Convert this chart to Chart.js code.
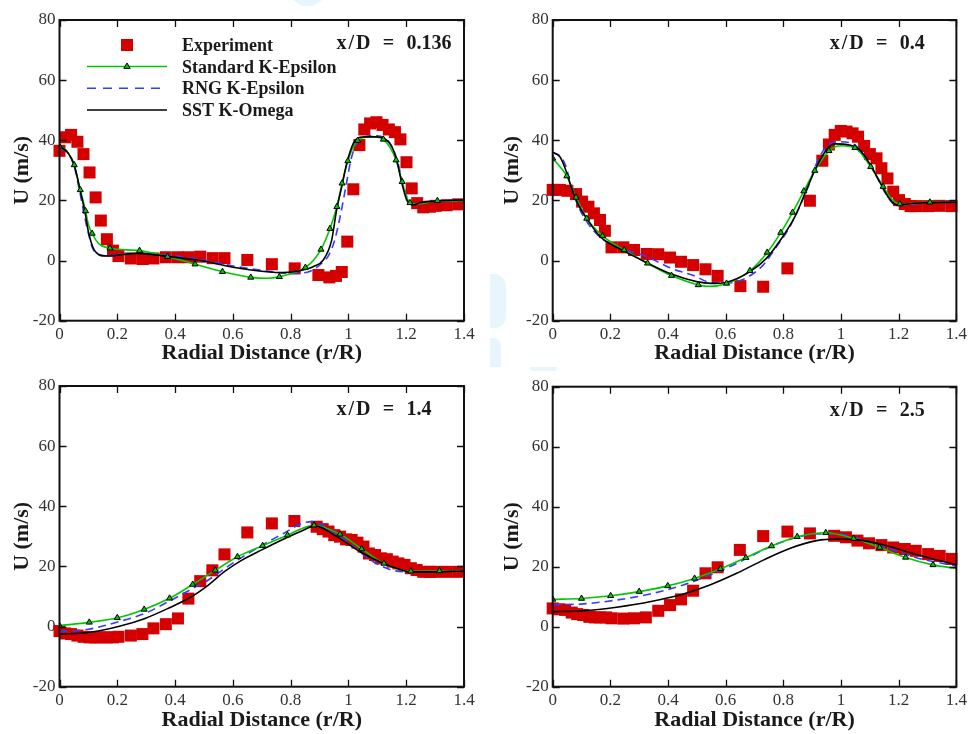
<!DOCTYPE html>
<html>
<head>
<meta charset="utf-8">
<title>Axial velocity profiles</title>
<script src="https://cdn.jsdelivr.net/npm/chart.js"></script>
<style>
  html, body { margin: 0; padding: 0; background: #fff; }
  body { position: relative; width: 971px; height: 734px; overflow: hidden; }
  canvas { position: absolute; }
  .wm { position: absolute; background: #e6f6fc; }
</style>
</head>
<body>
<!-- faint logo fragments behind the plots -->
<div class="wm" style="left:293px;top:0;width:29px;height:6px;clip-path:polygon(0 0,100% 0,70% 100%,30% 100%)"></div>
<div class="wm" style="left:490px;top:274px;width:16px;height:54px;border-radius:0 12px 12px 0"></div>
<div class="wm" style="left:490px;top:338px;width:11px;height:29px;border-radius:0 8px 0 0"></div>
<div class="wm" style="left:530px;top:367px;width:27px;height:4px;border-radius:0 0 6px 6px"></div>
<canvas id="p1" width="485" height="367" style="left:0;top:0"></canvas>
<canvas id="p2" width="481" height="367" style="left:490px;top:0"></canvas>
<canvas id="p3" width="485" height="367" style="left:0;top:367px"></canvas>
<canvas id="p4" width="481" height="367" style="left:490px;top:367px"></canvas>
<script>
const xTicks = [0, 0.2, 0.4, 0.6, 0.8, 1, 1.2, 1.4];
const yTicks = [-20, 0, 20, 40, 60, 80];
const seriesNames = ['Experiment', 'Standard K-Epsilon', 'RNG K-Epsilon', 'SST K-Omega'];
const stations = ['0.136', '0.4', '1.4', '2.5'];

// ---- x/D = 0.136 ----
const exp1R = [0, 0.02, 0.04, 0.062, 0.083, 0.104, 0.125, 0.143, 0.164, 0.185, 0.204, 0.247, 0.288, 0.325, 0.368, 0.41, 0.447, 0.487, 0.53, 0.571, 0.65, 0.735, 0.814, 0.896, 0.934, 0.957, 0.977, 0.996, 1.017, 1.038, 1.055, 1.075, 1.097, 1.118, 1.14, 1.161, 1.18, 1.201, 1.219, 1.238, 1.259, 1.282, 1.302, 1.34, 1.38];
const exp1U = [36.5, 41.0, 41.8, 39.5, 35.4, 29.3, 21.0, 13.3, 7.1, 3.3, 1.5, 0.7, 0.5, 0.7, 1.1, 1.1, 1.1, 1.3, 0.8, 0.8, 0.2, -1.2, -2.6, -4.8, -5.6, -5.1, -3.8, 6.3, 23.7, 38.4, 43.6, 45.6, 46.0, 45.1, 43.6, 42.7, 40.3, 32.7, 24.0, 19.1, 17.7, 17.9, 18.2, 18.4, 18.7];
const std1R = [0, 0.025, 0.051, 0.072, 0.09, 0.1, 0.113, 0.135, 0.175, 0.277, 0.374, 0.469, 0.564, 0.662, 0.72, 0.761, 0.82, 0.851, 0.88, 0.905, 0.936, 0.96, 0.978, 0.998, 1.015, 1.032, 1.06, 1.1, 1.121, 1.145, 1.165, 1.186, 1.2, 1.213, 1.235, 1.308, 1.4];
const std1U = [38, 36.5, 31.8, 23.5, 16.5, 12.0, 9.0, 5.7, 4.1, 3.3, 1.3, -1.2, -3.7, -5.6, -5.9, -5.4, -3.7, -2.3, 0.2, 3.7, 10.6, 17.9, 25.7, 33.1, 37.5, 39.9, 41.0, 41.0, 40.3, 37.5, 33.4, 26.2, 21.5, 19.2, 18.8, 19.9, 19.8];
const tri1R = [0, 0.051, 0.072, 0.09, 0.113, 0.175, 0.277, 0.374, 0.469, 0.564, 0.662, 0.761, 0.851, 0.905, 0.936, 0.96, 0.978, 0.998, 1.032, 1.121, 1.165, 1.186, 1.213, 1.308];
const tri1U = [38, 31.8, 23.5, 16.5, 9.0, 4.1, 3.3, 1.3, -1.2, -3.7, -5.6, -5.4, -2.3, 3.7, 10.6, 17.9, 25.7, 33.1, 39.9, 40.3, 33.4, 26.2, 19.2, 19.9];
const rng1R = [0, 0.03, 0.05, 0.07, 0.085, 0.1, 0.115, 0.135, 0.16, 0.2, 0.28, 0.38, 0.48, 0.6, 0.72, 0.8, 0.86, 0.9, 0.93, 0.95, 0.97, 0.99, 1.01, 1.04, 1.1, 1.13, 1.15, 1.17, 1.19, 1.21, 1.23, 1.26, 1.32, 1.4];
const rng1U = [37.5, 35.5, 31.5, 23, 15.5, 9, 4, 2, 1.6, 2, 2.5, 1.8, 0.5, -1.8, -3.5, -4.3, -3.8, -1.5, 1.5, 6, 14, 24, 34, 40.5, 41.5, 40.5, 38, 33, 25, 19.5, 18.5, 19.2, 19.8, 20];
const sst1R = [0, 0.03, 0.051, 0.071, 0.088, 0.1, 0.117, 0.134, 0.157, 0.192, 0.273, 0.38, 0.487, 0.602, 0.717, 0.775, 0.832, 0.879, 0.913, 0.942, 0.959, 0.977, 0.994, 1.017, 1.04, 1.08, 1.121, 1.15, 1.167, 1.185, 1.202, 1.225, 1.248, 1.317, 1.4];
const sst1U = [38.1, 35.7, 31.8, 23.5, 16.2, 9.6, 4.1, 2.1, 1.5, 1.7, 2.4, 1.3, 0, -2.2, -3.7, -4.0, -3.4, -2.0, 0.2, 6.8, 16.8, 24.6, 32.3, 39.0, 41.0, 41.2, 40.7, 37.9, 33.4, 25.7, 20.1, 18.5, 19.2, 19.9, 20.1];

// ---- x/D = 0.4 ----
const exp2R = [0, 0.025, 0.051, 0.081, 0.102, 0.124, 0.143, 0.164, 0.181, 0.204, 0.245, 0.282, 0.326, 0.366, 0.407, 0.445, 0.487, 0.53, 0.572, 0.651, 0.73, 0.814, 0.892, 0.935, 0.958, 0.978, 0.999, 1.019, 1.04, 1.059, 1.08, 1.1, 1.123, 1.14, 1.161, 1.181, 1.201, 1.221, 1.241, 1.261, 1.302, 1.342, 1.383];
const exp2U = [23.5, 23.5, 23.2, 22.1, 19.6, 17.9, 15.7, 13.5, 9.9, 4.4, 4.4, 3.5, 2.2, 2.1, 1.0, -0.4, -1.5, -2.9, -5.1, -8.5, -8.7, -2.6, 19.9, 33.2, 38.6, 41.8, 43.1, 42.9, 42.3, 41.2, 38.1, 35.4, 34.0, 30.7, 27.3, 22.9, 20.1, 18.8, 18.1, 18.1, 18.1, 18.2, 18.1];
const std2R = [0, 0.049, 0.081, 0.118, 0.173, 0.248, 0.329, 0.412, 0.505, 0.545, 0.603, 0.684, 0.744, 0.791, 0.832, 0.871, 0.909, 0.958, 1.0, 1.048, 1.103, 1.146, 1.175, 1.204, 1.308, 1.4];
const std2U = [34.0, 28.1, 21.0, 14.0, 8.2, 3.5, -0.9, -5.0, -8.1, -8.6, -7.6, -3.4, 2.7, 9.3, 16.0, 23.1, 29.9, 36.5, 38.2, 37.5, 31.2, 24.6, 20.5, 18.8, 19.4, 19.4];
const tri2R = [0, 0.049, 0.081, 0.118, 0.173, 0.248, 0.329, 0.412, 0.505, 0.603, 0.684, 0.744, 0.791, 0.832, 0.871, 0.909, 0.958, 1.048, 1.103, 1.146, 1.204, 1.308];
const tri2U = [34.0, 28.1, 21.0, 14.0, 8.2, 3.5, -0.9, -5.0, -8.1, -7.6, -3.4, 2.7, 9.3, 16.0, 23.1, 29.9, 36.5, 37.5, 31.2, 24.6, 18.8, 19.4];
const rng2R = [0, 0.025, 0.045, 0.066, 0.089, 0.118, 0.164, 0.245, 0.326, 0.412, 0.499, 0.534, 0.6, 0.655, 0.73, 0.776, 0.816, 0.851, 0.886, 0.915, 0.949, 0.996, 1.042, 1.08, 1.12, 1.16, 1.19, 1.23, 1.3, 1.4];
const rng2U = [36.0, 34.8, 31.5, 24.0, 18.0, 13.0, 7.8, 3.8, 1.3, -2.6, -5.4, -7.0, -7.5, -6.5, -1.5, 4.6, 10.2, 16.8, 24.6, 32.3, 37.9, 39.5, 38.8, 35.0, 28.5, 21.5, 18.5, 18.6, 19.2, 19.4];
const sst2R = [0, 0.025, 0.043, 0.066, 0.089, 0.118, 0.164, 0.245, 0.326, 0.412, 0.499, 0.55, 0.603, 0.684, 0.742, 0.794, 0.84, 0.88, 0.915, 0.949, 0.978, 1.03, 1.065, 1.1, 1.134, 1.163, 1.192, 1.227, 1.285, 1.4];
const sst2U = [36.0, 34.5, 30.7, 24.0, 18.5, 14.0, 8.0, 3.3, -0.7, -4.5, -7.0, -7.6, -7.2, -3.7, 0.8, 7.4, 14.6, 23.5, 31.2, 36.8, 38.8, 38.4, 36.8, 32.1, 26.2, 21.2, 18.5, 18.8, 19.2, 19.4];

// ---- x/D = 1.4 ----
const exp3R = [0, 0.02, 0.04, 0.062, 0.083, 0.104, 0.123, 0.143, 0.164, 0.185, 0.204, 0.247, 0.287, 0.325, 0.368, 0.41, 0.446, 0.487, 0.529, 0.571, 0.65, 0.735, 0.813, 0.89, 0.911, 0.931, 0.951, 0.971, 0.992, 1.011, 1.031, 1.052, 1.071, 1.092, 1.112, 1.133, 1.153, 1.173, 1.194, 1.216, 1.236, 1.259, 1.282, 1.3, 1.34, 1.38];
const exp3U = [-1.5, -2.3, -2.5, -3.0, -3.4, -3.6, -3.6, -3.6, -3.6, -3.6, -3.4, -3.0, -2.5, -0.6, 0.8, 2.7, 9.3, 15.1, 18.7, 24.0, 31.3, 34.3, 35.1, 33.2, 32.4, 31.6, 30.4, 29.9, 29.0, 28.8, 27.9, 26.6, 24.3, 23.8, 22.7, 22.4, 21.6, 21.0, 20.5, 19.4, 18.8, 18.2, 18.2, 18.2, 18.2, 18.2];
const std3R = [0, 0.103, 0.2, 0.293, 0.381, 0.461, 0.539, 0.616, 0.703, 0.789, 0.881, 0.971, 1.046, 1.123, 1.216, 1.315, 1.4];
const std3U = [0.3, 1.4, 2.9, 5.7, 9.4, 14.0, 18.7, 23.2, 26.9, 30.4, 33.7, 30.7, 25.8, 21.0, 18.4, 18.5, 18.5];
const tri3R = [0, 0.103, 0.2, 0.293, 0.381, 0.461, 0.539, 0.616, 0.703, 0.789, 0.881, 0.971, 1.046, 1.123, 1.216, 1.315];
const tri3U = [0.3, 1.4, 2.9, 5.7, 9.4, 14.0, 18.7, 23.2, 26.9, 30.4, 33.7, 30.7, 25.8, 21.0, 18.4, 18.5];
const rng3R = [0, 0.1, 0.204, 0.296, 0.377, 0.469, 0.515, 0.584, 0.7, 0.78, 0.838, 0.873, 0.9, 0.95, 1.0, 1.05, 1.1, 1.15, 1.2, 1.3, 1.4];
const rng3U = [-1.7, -0.9, 1.6, 4.4, 8.3, 13.1, 15.5, 20.1, 27.0, 31.2, 34.3, 34.9, 34.3, 31.0, 28.0, 24.0, 20.8, 18.8, 18.2, 18.3, 18.5];
const sst3R = [0, 0.1, 0.204, 0.296, 0.377, 0.458, 0.515, 0.573, 0.63, 0.7, 0.78, 0.838, 0.885, 0.96, 1.04, 1.121, 1.179, 1.213, 1.294, 1.4];
const sst3U = [-2.5, -2.0, 0.0, 2.7, 6.1, 10.0, 13.8, 18.4, 22.0, 25.5, 29.3, 31.8, 33.5, 29.9, 24.9, 21.0, 19.0, 18.2, 18.2, 18.5];

// ---- x/D = 2.5 ----
const exp4R = [0, 0.023, 0.043, 0.066, 0.085, 0.106, 0.127, 0.147, 0.164, 0.185, 0.204, 0.245, 0.282, 0.323, 0.366, 0.407, 0.445, 0.487, 0.53, 0.572, 0.649, 0.73, 0.814, 0.892, 0.976, 1.017, 1.057, 1.097, 1.14, 1.181, 1.221, 1.259, 1.302, 1.342, 1.383];
const exp4U = [6.1, 5.8, 5.6, 4.7, 4.2, 3.9, 3.3, 3.1, 3.1, 3.1, 2.8, 2.7, 2.8, 3.1, 5.3, 7.2, 9.1, 12.0, 17.8, 19.8, 25.6, 30.2, 31.7, 31.1, 30.3, 29.8, 28.7, 27.8, 27.2, 26.4, 25.9, 25.3, 24.2, 23.6, 22.6];
const std4R = [0, 0.1, 0.201, 0.3, 0.399, 0.492, 0.582, 0.67, 0.759, 0.848, 0.947, 1.044, 1.134, 1.224, 1.319, 1.4];
const std4U = [9.1, 9.4, 10.3, 11.7, 13.6, 16.1, 19.3, 23.0, 26.9, 30.0, 31.3, 29.4, 26.4, 23.1, 20.6, 19.4];
const tri4R = [0, 0.1, 0.201, 0.3, 0.399, 0.492, 0.582, 0.67, 0.759, 0.848, 0.947, 1.044, 1.134, 1.224, 1.319];
const tri4U = [9.1, 9.4, 10.3, 11.7, 13.6, 16.1, 19.3, 23.0, 26.9, 30.0, 31.3, 29.4, 26.4, 23.1, 20.6];
const rng4R = [0, 0.106, 0.222, 0.337, 0.453, 0.545, 0.638, 0.73, 0.822, 0.915, 0.985, 1.077, 1.169, 1.261, 1.4];
const rng4U = [7.3, 7.6, 8.9, 10.9, 13.9, 17.2, 21.1, 25.6, 29.1, 30.9, 30.9, 28.9, 26.0, 23.0, 20.2];
const sst4R = [0, 0.106, 0.222, 0.337, 0.453, 0.545, 0.638, 0.73, 0.822, 0.915, 0.985, 1.077, 1.169, 1.261, 1.4];
const sst4U = [5.0, 5.3, 6.5, 8.3, 10.9, 13.9, 17.8, 22.2, 26.1, 28.7, 29.2, 28.7, 26.7, 24.1, 20.6];

const RED = '#d40000';
const GREEN = '#00c800';
const BLUE = '#3a3aff';
const BLACK = '#000000';
const SERIF = '"Liberation Serif", "Times New Roman", serif';

const xy = (rs, us) => rs.map((r, i) => ({ x: r, y: us[i] }));

// inward ticks, frame, station label and (first panel only) the legend
const framePlugin = {
    id: 'frame',
    afterDraw(chart, args, opts) {
        const { ctx, chartArea: ca } = chart;
        const xs = chart.scales.x, ys = chart.scales.y;
        ctx.save();
        ctx.strokeStyle = '#111';
        ctx.lineWidth = 1.3;
        ctx.beginPath();
        xTicks.forEach(v => {
            const px = Math.round(xs.getPixelForValue(v)) + 0.5;
            ctx.moveTo(px, ca.bottom); ctx.lineTo(px, ca.bottom - 7);
            ctx.moveTo(px, ca.top); ctx.lineTo(px, ca.top + 7);
        });
        yTicks.forEach(v => {
            const py = Math.round(ys.getPixelForValue(v)) + 0.5;
            ctx.moveTo(ca.left, py); ctx.lineTo(ca.left + 7, py);
            ctx.moveTo(ca.right, py); ctx.lineTo(ca.right - 7, py);
        });
        ctx.stroke();
        ctx.lineWidth = 2;
        ctx.strokeRect(ca.left, ca.top, ca.right - ca.left, ca.bottom - ca.top);

        // station label
        const lx = ca.left + 277, ly = ca.top + 29;
        ctx.fillStyle = '#1a1a1a';
        ctx.textBaseline = 'alphabetic';
        ctx.font = 'bold 20px ' + SERIF;
        ctx.letterSpacing = '2px';
        ctx.textAlign = 'left';
        ctx.fillText('x/D', lx, ly);
        ctx.letterSpacing = '0px';
        ctx.textAlign = 'center';
        ctx.fillText('=', lx + 52, ly);
        ctx.textAlign = 'left';
        ctx.fillText(opts.station, lx + 70, ly);

        if (opts.legend) {
            const rowY = [45, 66.5, 88.3, 110];
            const x0 = 87, x1 = 167, xm = 127, tx = 182;
            ctx.font = 'bold 18px ' + SERIF;
            ctx.fillStyle = '#1a1a1a';
            ctx.textAlign = 'left';
            seriesNames.forEach((name, i) => ctx.fillText(name, tx, rowY[i] + 6));
            // experiment square
            ctx.fillStyle = RED;
            ctx.fillRect(xm - 6, rowY[0] - 6, 12, 12);
            // standard k-epsilon: line with triangle
            ctx.lineWidth = 1.5;
            ctx.strokeStyle = GREEN;
            ctx.beginPath(); ctx.moveTo(x0, rowY[1]); ctx.lineTo(x1, rowY[1]); ctx.stroke();
            ctx.fillStyle = GREEN; ctx.strokeStyle = '#000'; ctx.lineWidth = 1;
            ctx.beginPath();
            ctx.moveTo(xm, rowY[1] - 3.5);
            ctx.lineTo(xm + 3.2, rowY[1] + 1.9);
            ctx.lineTo(xm - 3.2, rowY[1] + 1.9);
            ctx.closePath(); ctx.fill(); ctx.stroke();
            // rng dashed
            ctx.lineWidth = 1.5;
            ctx.strokeStyle = BLUE;
            ctx.setLineDash([9, 7]);
            ctx.beginPath(); ctx.moveTo(x0, rowY[2]); ctx.lineTo(x1, rowY[2]); ctx.stroke();
            ctx.setLineDash([]);
            // sst solid
            ctx.strokeStyle = BLACK;
            ctx.beginPath(); ctx.moveTo(x0, rowY[3]); ctx.lineTo(x1, rowY[3]); ctx.stroke();
        }
        ctx.restore();
    }
};

function buildPanel(id, station, legend, series, yWidth, padTop, padRight, xHeight) {
    const [expR, expU, stdR, stdU, triR, triU, rngR, rngU, sstR, sstU] = series;
    new Chart(document.getElementById(id), {
        type: 'line',
        data: {
            datasets: [
                { label: seriesNames[1] + ' markers', data: xy(triR, triU), showLine: false,
                  pointStyle: 'triangle', pointRadius: 3.5, pointBackgroundColor: GREEN,
                  pointBorderColor: '#000', pointBorderWidth: 1, order: 0 },
                { label: seriesNames[3], data: xy(sstR, sstU), borderColor: BLACK, borderWidth: 1.6,
                  pointRadius: 0, cubicInterpolationMode: 'monotone', order: 1 },
                { label: seriesNames[1], data: xy(stdR, stdU), borderColor: GREEN, borderWidth: 1.6,
                  pointRadius: 0, cubicInterpolationMode: 'monotone', order: 2 },
                { label: seriesNames[2], data: xy(rngR, rngU), borderColor: BLUE, borderWidth: 1.6,
                  borderDash: [8, 5], pointRadius: 0, cubicInterpolationMode: 'monotone', order: 3 },
                { label: seriesNames[0], data: xy(expR, expU), showLine: false, clip: false,
                  pointStyle: 'rect', pointRadius: 8.5, pointBackgroundColor: RED,
                  pointBorderWidth: 0, order: 4 }
            ]
        },
        options: {
            responsive: false,
            animation: false,
            events: [],
            devicePixelRatio: 1,
            layout: { padding: { left: 0, top: padTop, right: padRight, bottom: 0 } },
            plugins: {
                legend: { display: false },
                tooltip: { enabled: false },
                frame: { station, legend }
            },
            scales: {
                x: {
                    type: 'linear', min: 0, max: 1.4,
                    afterBuildTicks: s => { s.ticks = xTicks.map(v => ({ value: v })); },
                    afterFit: s => { s.height = xHeight; },
                    grid: { display: false, drawTicks: false },
                    border: { display: false },
                    ticks: { padding: 4, color: '#333', font: { family: SERIF, size: 17 },
                             maxRotation: 0, callback: v => String(v) },
                    title: { display: true, text: 'Radial Distance (r/R)', color: '#1a1a1a',
                             font: { family: SERIF, size: 22, weight: 'bold' },
                             padding: { top: 0, bottom: 0 } }
                },
                y: {
                    type: 'linear', min: -20, max: 80,
                    afterBuildTicks: s => { s.ticks = yTicks.map(v => ({ value: v })); },
                    afterFit: s => { s.width = yWidth; },
                    grid: { display: false, drawTicks: false },
                    border: { display: false },
                    ticks: { padding: 4, color: '#333', font: { family: SERIF, size: 17 },
                             callback: v => String(v) },
                    title: { display: true, text: 'U (m/s)', color: '#1a1a1a',
                             font: { family: SERIF, size: 22, weight: 'bold' },
                             padding: { top: 9, bottom: 0 } }
                }
            }
        },
        plugins: [framePlugin]
    });
}

buildPanel('p1', stations[0], true,
    [exp1R, exp1U, std1R, std1U, tri1R, tri1U, rng1R, rng1U, sst1R, sst1U], 59.5, 20, 21, 46.3);
buildPanel('p2', stations[1], false,
    [exp2R, exp2U, std2R, std2U, tri2R, tri2U, rng2R, rng2U, sst2R, sst2U], 62.7, 20, 14.3, 46.3);
buildPanel('p3', stations[2], false,
    [exp3R, exp3U, std3R, std3U, tri3R, tri3U, rng3R, rng3U, sst3R, sst3U], 59.5, 19, 21, 47.3);
buildPanel('p4', stations[3], false,
    [exp4R, exp4U, std4R, std4U, tri4R, tri4U, rng4R, rng4U, sst4R, sst4U], 62.7, 19.7, 14.3, 47.3);
</script>
</body>
</html>
